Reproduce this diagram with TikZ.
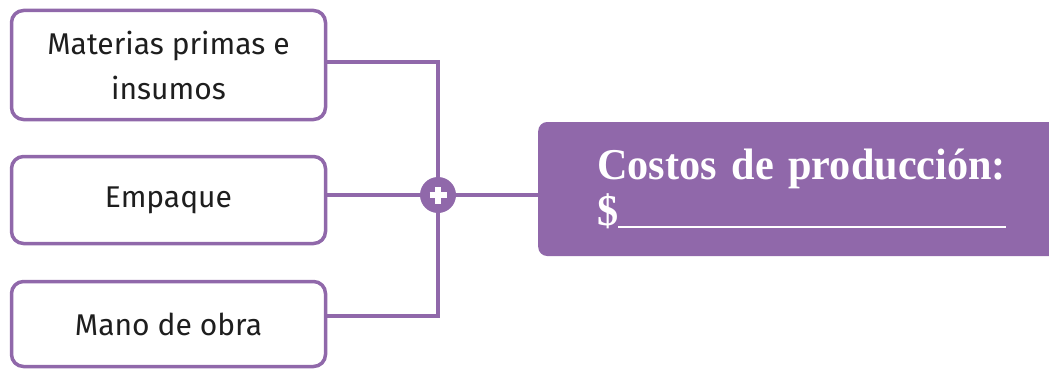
\documentclass[tikz,border=0pt]{standalone}
\usepackage{fontspec}
\setmainfont{Fira Sans}
\newfontfamily\disp[FakeStretch=0.96]{Liberation Serif}
\definecolor{purp}{HTML}{9068AA}
\definecolor{txt}{HTML}{1E1E1E}
\begin{document}
\begin{tikzpicture}[x=1pt,y=-1pt,
  item/.style={draw=purp, line width=3.5pt, rounded corners=12pt, fill=white,
    minimum width=314pt, align=center, text=txt, font=\fontsize{30}{45}\selectfont},
  conn/.style={draw=purp, line width=3.5pt},
  total/.style={fill=purp, rounded corners=9pt, anchor=west, minimum height=134pt,
    text width=412pt, inner xsep=59pt, align=left, text=white,
    font=\disp\bfseries\fontsize{44}{46}\selectfont}]
\useasboundingbox (0,0) rectangle (1049,369);
\node[item, minimum height=109pt] (b1) at (168.5,65) {Materias primas e\\insumos};
\node[item, minimum height=87pt] (b2) at (168.5,200) {Empaque};
\node[item, minimum height=85pt] (b3) at (168.5,324) {Mano de obra};
\node[circle, fill=purp, minimum size=36pt, inner sep=0pt] (plus) at (438,195) {};
\node[total] (tot) at (538,189) {Costos de producción:\\\$\rule[-2pt]{388pt}{2pt}};
\draw[conn] ([yshift=3pt]b1.east) -| (plus.north);
\draw[conn] (b2.east |- plus.west) -- (plus.west);
\draw[conn] ([yshift=8pt]b3.east) -| (plus.south);
\draw[conn] (plus.east) -- (tot.west |- plus.east);
\draw[white, line width=5.5pt] ([xshift=-8.5pt]plus.center) -- ([xshift=8.5pt]plus.center)
  ([yshift=-8.5pt]plus.center) -- ([yshift=8.5pt]plus.center);
\end{tikzpicture}
\end{document}
